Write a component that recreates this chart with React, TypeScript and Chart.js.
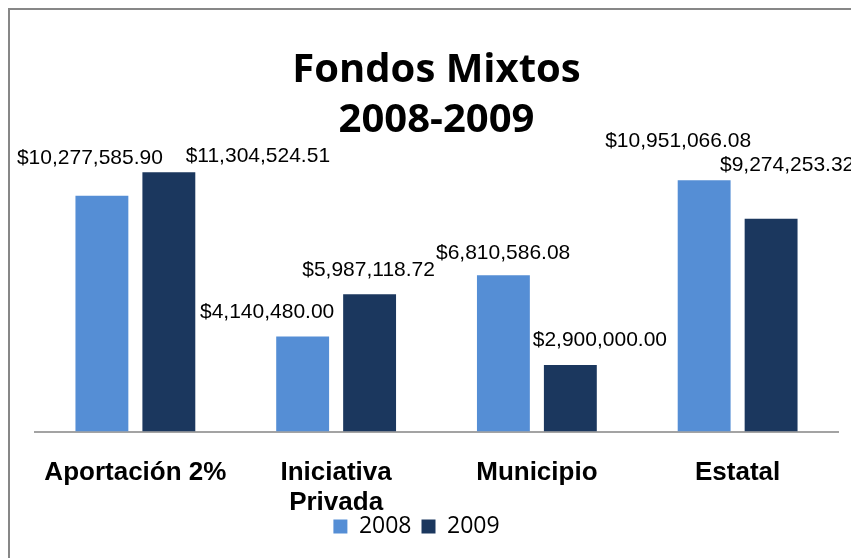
import { useEffect, useRef } from 'react';
import { Chart, registerables } from 'chart.js';

Chart.register(...registerables);

const categories: (string | string[])[] = ['Aportación 2%', ['Iniciativa', 'Privada'], 'Municipio', 'Estatal'];
const seriesNames = ['2008', '2009'];
const values2008 = [10277585.9, 4140480.0, 6810586.08, 10951066.08];
const values2009 = [11304524.51, 5987118.72, 2900000.0, 9274253.32];
const yMax = 12000000;
const titleLines = ['Fondos Mixtos', '2008-2009'];

// label displacement (dx, dy) from the top-centre of each bar, as placed in the original
const labelShift2008 = [[-12, -38], [-35.5, -24], [-0.3, -22], [-26, -39]];
const labelShift2009 = [[89, -16], [-1, -23.5], [29.5, -25], [16, -54]];

const colors = ['#558ED5', '#1B375E'];
const W = 880;
const H = 550;

const fmt = (v: number) =>
  '$' + v.toLocaleString('en-US', { minimumFractionDigits: 2, maximumFractionDigits: 2 });

export default function App() {
  const ref = useRef<HTMLCanvasElement>(null);

  useEffect(() => {
    if (!ref.current) return;

    const framePlugin = {
      id: 'frame',
      beforeDraw(chart: any) {
        const c = chart.ctx;
        c.save();
        c.fillStyle = '#ffffff';
        c.fillRect(0, 0, chart.width, chart.height);
        c.strokeStyle = '#878787';
        c.lineWidth = 2;
        c.strokeRect(1, 1, chart.width + 20, chart.height + 20);
        c.restore();
      },
    };

    const legendShift = {
      id: 'legendShift',
      afterLayout(chart: any) {
        const lg = chart.legend;
        if (lg) {
          lg.left -= 20;
          lg.right -= 20;
          lg.top -= 8.5;
          lg.bottom -= 8.5;
        }
      },
    };

    const shifts = [labelShift2008, labelShift2009];
    const valueLabels = {
      id: 'valueLabels',
      afterDatasetsDraw(chart: any) {
        const c = chart.ctx;
        c.save();
        c.font = "21px 'Liberation Sans', Arial, sans-serif";
        c.fillStyle = '#000000';
        c.textAlign = 'center';
        c.textBaseline = 'middle';
        chart.data.datasets.forEach((ds: any, di: number) => {
          const meta = chart.getDatasetMeta(di);
          meta.data.forEach((el: any, i: number) => {
            const [dx, dy] = shifts[di][i];
            c.fillText(fmt(ds.data[i]), el.x + dx, el.y + dy);
          });
        });
        c.restore();
      },
    };

    const chart = new Chart(ref.current, {
      type: 'bar',
      data: {
        labels: categories,
        datasets: [
          {
            label: seriesNames[0],
            data: values2008,
            backgroundColor: colors[0],
            borderWidth: 0,
            barPercentage: 0.79,
            categoryPercentage: 0.667,
          },
          {
            label: seriesNames[1],
            data: values2009,
            backgroundColor: colors[1],
            borderWidth: 0,
            barPercentage: 0.79,
            categoryPercentage: 0.667,
          },
        ],
      },
      options: {
        responsive: false,
        animation: false,
        devicePixelRatio: 1,
        layout: { padding: { left: 27, right: 50, top: 0, bottom: 1.5 } },
        plugins: {
          title: {
            display: true,
            text: titleLines,
            color: '#000000',
            font: { family: "'Open Sans', sans-serif", size: 40, weight: 'bold', lineHeight: 1.24 },
            padding: { top: 38, bottom: 11 },
          },
          legend: {
            display: true,
            position: 'bottom',
            labels: {
              boxWidth: 14,
              boxHeight: 14,
              padding: 10,
              color: '#000000',
              font: { family: "'Open Sans', sans-serif", size: 23 },
            },
          },
          tooltip: { enabled: false },
        },
        scales: {
          x: {
            grid: { display: false, drawTicks: false },
            border: { display: true, color: '#a3a3a3', width: 2 },
            ticks: {
              color: '#000000',
              padding: 26,
              font: { family: "'Liberation Sans', Arial, sans-serif", size: 26, weight: 'bold', lineHeight: 1.154 },
              maxRotation: 0,
              autoSkip: false,
            },
            afterFit: (axis: any) => {
              axis.height = 82;
            },
          },
          y: {
            display: false,
            min: 0,
            max: yMax,
          },
        },
      },
      plugins: [framePlugin, legendShift, valueLabels],
    });

    return () => chart.destroy();
  }, []);

  return (
    <div style={{ position: 'fixed', left: 8, top: 8, width: 843, height: 550, overflow: 'hidden' }}>
      <canvas ref={ref} width={W} height={H} style={{ display: 'block' }} />
    </div>
  );
}
